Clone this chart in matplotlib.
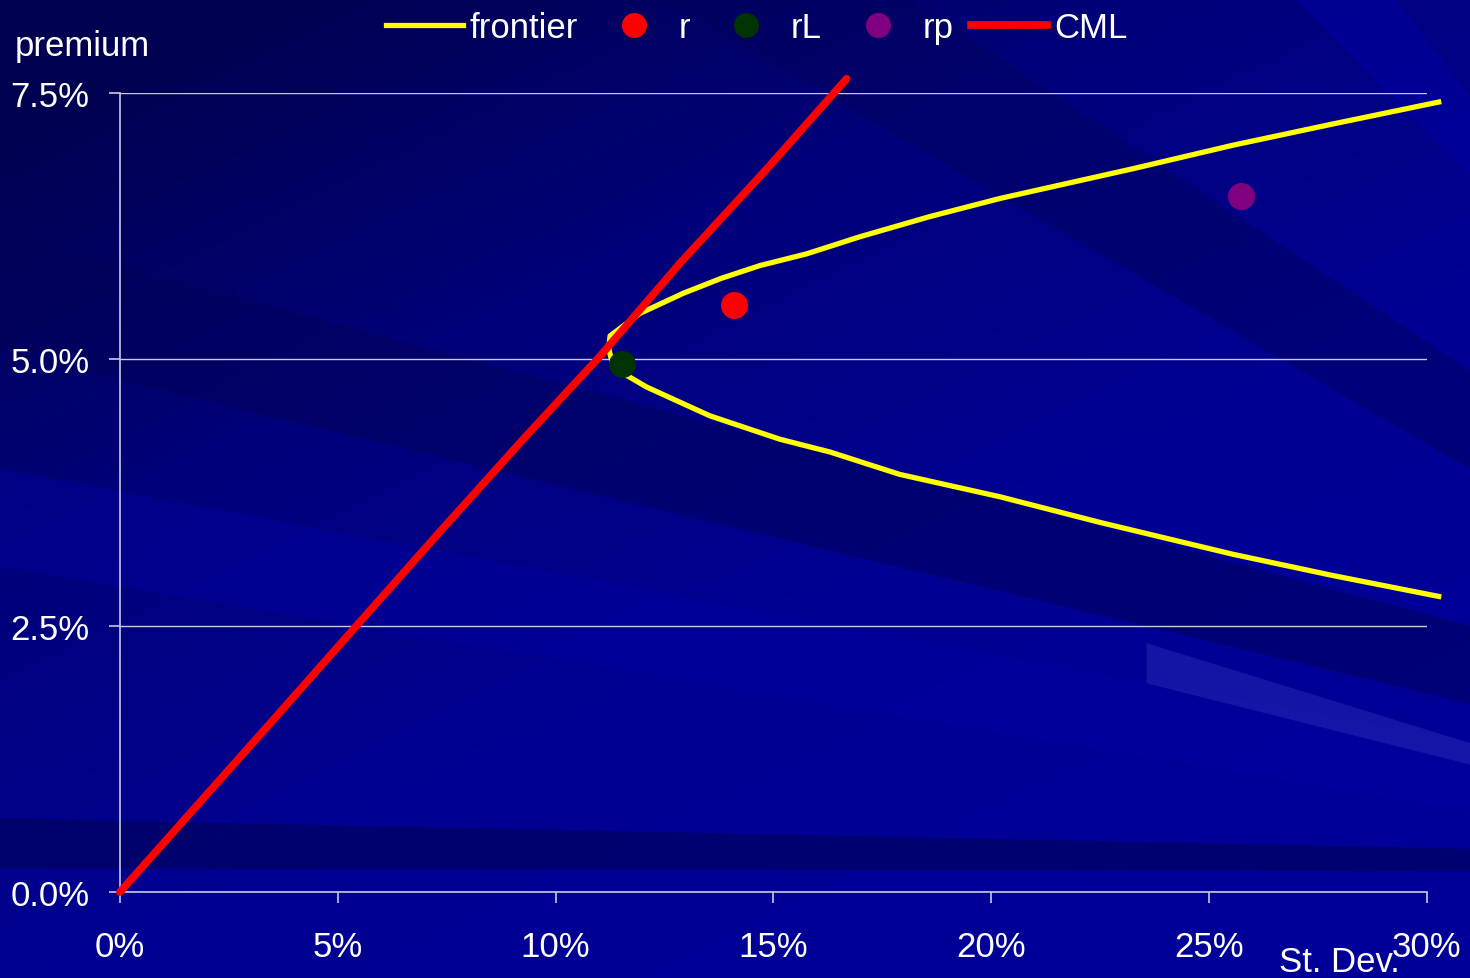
import matplotlib

matplotlib.use("Agg")
import matplotlib.pyplot as plt
import numpy as np
from matplotlib.colors import LinearSegmentedColormap
from matplotlib.lines import Line2D
from matplotlib.patches import Polygon

plt.rcParams["font.family"] = ["Liberation Sans", "DejaVu Sans"]

# efficient frontier (st. dev. %, premium %), upper branch then lower branch
frontier_sd = [30.33, 27.85, 25.55, 23.26, 20.20, 18.59, 16.98, 15.76, 14.69, 13.80, 12.93, 11.93,
               11.25, 11.22, 11.28, 11.40, 11.63, 12.09, 13.54, 15.15, 16.30, 17.90, 20.20, 22.49,
               25.55, 27.85, 30.33]
frontier_prem = [7.42, 7.21, 7.01, 6.79, 6.51, 6.34, 6.15, 5.99, 5.88, 5.76, 5.62, 5.43,
                 5.22, 5.10, 5.00, 4.93, 4.85, 4.74, 4.47, 4.25, 4.13, 3.92, 3.71, 3.47,
                 3.17, 2.97, 2.77]

# capital market line
cml_sd = [0.0, 1.49, 3.44, 5.43, 7.34, 9.30, 11.02, 12.85, 14.92, 16.68]
cml_prem = [0.0, 0.685, 1.58, 2.50, 3.38, 4.27, 5.03, 5.90, 6.82, 7.634]

# single portfolios
r_pt = (14.09, 5.51)
rl_pt = (11.52, 4.96)
rp_pt = (25.73, 6.53)

x_ticks = [0, 5, 10, 15, 20, 25, 30]
y_ticks = [0.0, 2.5, 5.0, 7.5]

BG = "#000088"
GRID = "#C8C8E8"
FS = 25

fig = plt.figure(figsize=(14.7, 9.79), dpi=100)
fig.patch.set_facecolor(BG)

# slide-style background: diagonal gradient plus a few streaks
bg = fig.add_axes([0, 0, 1, 1], zorder=-10)
bg.set_axis_off()
gx, gy = np.meshgrid(np.linspace(0, 1, 300), np.linspace(0, 1, 200))
shade = 0.55 * gx + 0.75 * gy  # gy = 0 at top
cmap = LinearSegmentedColormap.from_list("slide", ["#000050", "#00007A", "#000092", "#000098"])
bg.imshow(shade, cmap=cmap, extent=(0, 1, 0, 1), origin="upper", aspect="auto",
          vmin=0.1, vmax=1.1)
streaks = [
    ([(0.0, 0.76), (1.0, 0.36), (1.0, 0.28), (0.0, 0.64)], "#000058", 0.50),
    ([(0.45, 1.0), (0.62, 1.0), (1.0, 0.62), (1.0, 0.52)], "#00005A", 0.45),
    ([(0.0, 0.52), (1.0, 0.24), (1.0, 0.17), (0.0, 0.42)], "#0000A4", 0.40),
    ([(0.78, 0.342), (1.0, 0.240), (1.0, 0.218), (0.78, 0.301)], "#2A2AB4", 0.50),
    ([(0.0, 0.163), (1.0, 0.132), (1.0, 0.109), (0.0, 0.112)], "#000058", 0.60),
    ([(0.88, 1.0), (0.95, 1.0), (1.0, 0.90), (1.0, 0.82)], "#0000A8", 0.45),
]
for pts, col, a in streaks:
    bg.add_patch(Polygon(pts, closed=True, facecolor=col, edgecolor="none", alpha=a))
bg.set_xlim(0, 1)
bg.set_ylim(0, 1)

ax = fig.add_axes([0.0816, 0.0878, 0.8891, 0.8162])
ax.patch.set_alpha(0)

ax.plot(frontier_sd, frontier_prem, color="#FFFF00", lw=3.8, clip_on=False,
        solid_capstyle="butt", solid_joinstyle="round", zorder=3)
ax.plot(cml_sd, cml_prem, color="#FF0000", lw=5.5, clip_on=False,
        solid_capstyle="round", solid_joinstyle="round", zorder=4)
ax.scatter(*r_pt, s=340, color="#FF0000", zorder=5, clip_on=False)
ax.scatter(*rl_pt, s=340, color="#003300", zorder=5, clip_on=False)
ax.scatter(*rp_pt, s=340, color="#800080", zorder=5, clip_on=False)

ax.set_xlim(0, 30)
ax.set_ylim(0, 7.5)
ax.set_xticks(x_ticks)
ax.set_xticklabels([f"{v}%" for v in x_ticks])
ax.set_yticks(y_ticks)
ax.set_yticklabels([f"{v:.1f}%" for v in y_ticks])
ax.tick_params(axis="both", colors=GRID, labelcolor="white", labelsize=FS,
               length=8, width=1.2, direction="out")
ax.tick_params(axis="x", pad=19)
ax.tick_params(axis="y", pad=14)
ax.grid(axis="y", color=GRID, lw=1.0)
ax.set_axisbelow(True)
for s in ("top", "right"):
    ax.spines[s].set_visible(False)
for s in ("left", "bottom"):
    ax.spines[s].set_color(GRID)
    ax.spines[s].set_linewidth(1.2)

fig.text(0.010, 0.952, "premium", color="white", fontsize=FS, ha="left", va="center")
fig.text(0.870, 0.017, "St. Dev.", color="white", fontsize=FS, ha="left", va="center")

handles = [
    Line2D([], [], color="#FFFF00", lw=3.8),
    Line2D([], [], marker="o", ls="none", color="#FF0000", markersize=17),
    Line2D([], [], marker="o", ls="none", color="#003300", markersize=17),
    Line2D([], [], marker="o", ls="none", color="#800080", markersize=17),
    Line2D([], [], color="#FF0000", lw=5.5),
]
fig.legend(handles, ["frontier", "r", "rL", "rp", "CML"], loc="upper center",
           bbox_to_anchor=(0.515, 1.02), ncol=5, frameon=False, fontsize=FS,
           handlelength=2.2, handletextpad=0.2, columnspacing=0.5,
           labelcolor="white")

fig.savefig("out.png", dpi=100, facecolor=BG)
